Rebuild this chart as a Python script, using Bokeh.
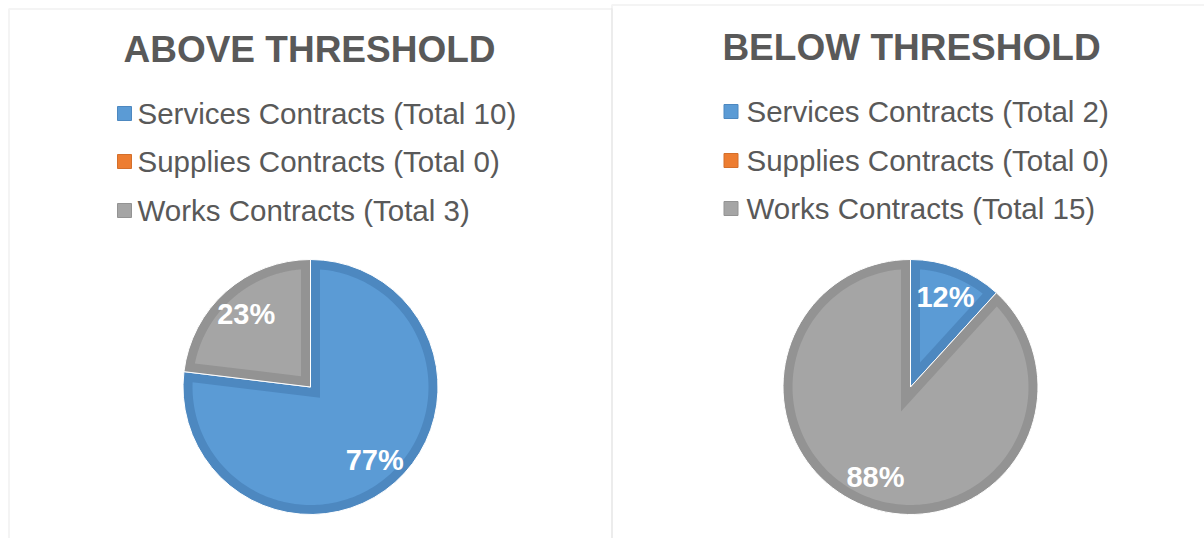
import numpy as np
from bokeh.plotting import figure
from bokeh.models import Range1d, BoxAnnotation, ColumnDataSource
from bokeh.embed import file_html
from bokeh.resources import INLINE
from bokeh.core.properties import value

# ---------------- data ----------------
categories = ["Services Contracts", "Supplies Contracts", "Works Contracts"]
above_values = [10, 0, 3]
below_values = [2, 0, 15]
panel_titles = ["ABOVE THRESHOLD", "BELOW THRESHOLD"]

# ---------------- style ----------------
fill_colors = ["#5B9BD5", "#ED7D31", "#A5A5A5"]
border_colors = ["#4D88C0", "#D46F2B", "#939393"]
text_color = "#595959"
FONT = "Liberation Sans"

W, H = 1204, 538
OX, OY = 0, 0


def Y(page_y):
    return H + OY - page_y


# layout (page pixel positions)
pie_cx = [310, 910]
pie_cy = 386.5
pie_r = 127.5
bw = 9.5
title_x = [309, 911]
title_y = [49, 47]
legend_rows = [[113, 161, 210], [111, 160, 208]]
legend_mx = [124, 730.5]
legend_tx = [137, 746]

p = figure(width=W, height=H, x_range=Range1d(OX, OX + W), y_range=Range1d(0, H),
           output_backend="svg", toolbar_location=None, min_border=0,
           x_axis_location=None, y_axis_location=None)
p.outline_line_color = None
p.xgrid.visible = False
p.ygrid.visible = False
p.background_fill_color = "white"
p.border_fill_color = "white"

# panel borders
p.add_layout(BoxAnnotation(left=8.5, right=611.5, top=Y(8.5), bottom=-20, fill_alpha=0,
                           line_color="#D9D9D9", line_width=2))
p.add_layout(BoxAnnotation(left=611.5, right=1240, top=Y(4.5), bottom=-20, fill_alpha=0,
                           line_color="#D9D9D9", line_width=2))

for k, vals in enumerate([above_values, below_values]):
    vals = np.array(vals, dtype=float)
    fr = vals / vals.sum()
    cum = np.concatenate([[0.0], np.cumsum(fr)])
    a0 = cum[:-1] * 2 * np.pi
    a1 = cum[1:] * 2 * np.pi
    th_s = np.pi / 2 - a1
    th_e = np.pi / 2 - a0
    keep = fr > 0
    cx, cy = pie_cx[k], Y(pie_cy)

    src = ColumnDataSource(dict(
        start=th_s[keep], end=th_e[keep],
        fill=[c for c, kk in zip(fill_colors, keep) if kk],
        line=[c for c, kk in zip(border_colors, keep) if kk],
    ))
    p.wedge(x=cx, y=cy, radius=pie_r, start_angle="start", end_angle="end",
            fill_color="line", line_color="white", line_width=1, source=src)

    xs, ys = [], []
    ri = pie_r - bw
    dl = np.arcsin(bw / ri)
    for s, e in zip(th_s[keep], th_e[keep]):
        span = e - s
        phi = (s + e) / 2
        d = bw / np.sin(span / 2)
        ax, ay = cx + d * np.cos(phi), cy + d * np.sin(phi)
        t = np.linspace(s + dl, e - dl, 200)
        xs.append([ax] + list(cx + ri * np.cos(t)))
        ys.append([ay] + list(cy + ri * np.sin(t)))
    p.patches(xs, ys, fill_color=[c for c, kk in zip(fill_colors, keep) if kk],
              line_color=None)

    # percentage labels
    phis = (th_s + th_e) / 2
    lx = cx + 0.76 * pie_r * np.cos(phis[keep])
    ly = cy + 0.76 * pie_r * np.sin(phis[keep])
    labels = [f"{round(100 * f)}%" for f in fr[keep]]
    p.text(x=lx, y=ly, text=labels, text_color="white", text_font=value(FONT),
           text_font_style="bold", text_font_size="29px", text_align="center",
           text_baseline="middle")

    # title
    p.text(x=[title_x[k]], y=[Y(title_y[k])],
           text=[panel_titles[k]], text_color=text_color, text_font=value(FONT),
           text_font_style="bold", text_font_size="37px", text_align="center",
           text_baseline="middle")

    # legend
    ly_rows = [Y(v) for v in legend_rows[k]]
    p.scatter(x=[legend_mx[k]] * 3, y=ly_rows, marker="square", size=14,
              fill_color=fill_colors, line_color=border_colors, line_width=1)
    leg_text = [f"{c} (Total {int(v)})" for c, v in zip(categories, vals)]
    p.text(x=[legend_tx[k]] * 3, y=ly_rows, text=leg_text, text_color=text_color,
           text_font=value(FONT), text_font_size="29.5px", text_align="left",
           text_baseline="middle")

open("out.html", "w").write(file_html(p, INLINE))
